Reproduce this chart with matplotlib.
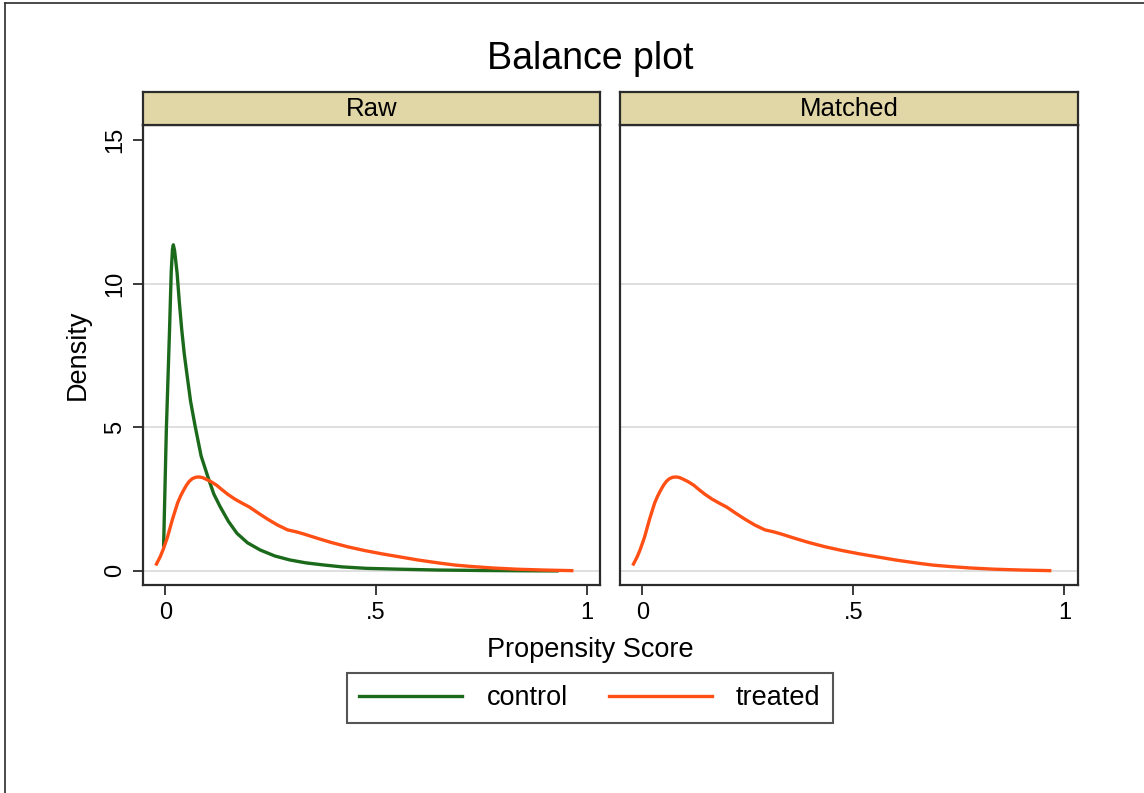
import matplotlib
matplotlib.use("Agg")
from matplotlib import pyplot as plt
from matplotlib.lines import Line2D

plt.rcParams["font.family"] = ["Liberation Sans", "DejaVu Sans"]

# Kernel density of the propensity score.
control_x = [-0.004, 0.0024, 0.010, 0.014, 0.017, 0.019, 0.022, 0.028, 0.033,
             0.039, 0.045, 0.051, 0.06, 0.071, 0.085, 0.102, 0.115, 0.13,
             0.15, 0.17, 0.195, 0.225, 0.26, 0.296, 0.334, 0.374, 0.42,
             0.477, 0.556, 0.65, 0.75, 0.85, 0.93]
control_y = [0.9, 4.9, 8.39, 10.4, 11.2, 11.35, 11.15, 10.36, 9.4,
             8.39, 7.55, 6.88, 5.9, 5.02, 4.0, 3.23, 2.68, 2.24,
             1.72, 1.31, 0.98, 0.73, 0.52, 0.38, 0.28, 0.21, 0.14,
             0.09, 0.06, 0.03, 0.015, 0.005, 0.0]

treated_x = [-0.021, -0.012, -0.005, 0.005, 0.017, 0.029, 0.036, 0.043, 0.05,
             0.057, 0.064, 0.072, 0.08, 0.088, 0.097, 0.108, 0.122, 0.135,
             0.148, 0.165, 0.182, 0.2, 0.222, 0.243, 0.266, 0.29, 0.311, 0.33,
             0.36, 0.394, 0.433, 0.473, 0.512, 0.552, 0.6, 0.652, 0.69, 0.731,
             0.78, 0.834, 0.9, 0.965]
treated_y = [0.24, 0.5, 0.75, 1.17, 1.8, 2.36, 2.6, 2.8, 2.98,
             3.12, 3.21, 3.26, 3.27, 3.25, 3.19, 3.11, 2.98, 2.82,
             2.67, 2.5, 2.36, 2.22, 2.0, 1.8, 1.6, 1.43, 1.36, 1.28,
             1.14, 0.99, 0.84, 0.71, 0.6, 0.5, 0.38, 0.27, 0.2, 0.15,
             0.1, 0.06, 0.03, 0.01]

panels = ["Raw", "Matched"]
yticks = [0, 5, 10, 15]
ytick_labels = ["0", "5", "10", "15"]
xticks = [0, 0.5, 1]
xtick_labels = ["0", ".5", "1"]

green = "#1b6a1b"
orange = "#ff4f14"
strip_color = "#e0d6a6"
edge = "#2b2b2b"

W, H = 1144, 793
fig = plt.figure(figsize=(W / 100, H / 100), dpi=100)

# frame lines along the left and top of the graph region
fig.add_artist(Line2D([5 / W, 5 / W], [0, 1 - 3 / H], color=edge, lw=1.2))
fig.add_artist(Line2D([5 / W, 1], [1 - 3 / H, 1 - 3 / H], color=edge, lw=1.2))

lefts = [143, 620]
widths = [457, 458]
bottom, top = 585, 125

for i, name in enumerate(panels):
    ax = fig.add_axes([lefts[i] / W, 1 - bottom / H, widths[i] / W, (bottom - top) / H])
    for g in [0, 5, 10]:
        ax.axhline(g, color="#dcdcdc", lw=1.3, zorder=0)
    if name == "Raw":
        ax.plot(control_x, control_y, color=green, lw=2.4, solid_joinstyle="round")
    ax.plot(treated_x, treated_y, color=orange, lw=2.4, solid_joinstyle="round")

    ax.set_xlim(-0.053, 1.032)
    ax.set_ylim(-0.49, 15.52)
    ax.set_xticks(xticks)
    ax.set_xticklabels(xtick_labels, fontsize=17)
    ax.tick_params(axis="x", length=7, width=1.3, color=edge, pad=5)
    for s in ax.spines.values():
        s.set_color(edge)
        s.set_linewidth(1.6)
    if i == 0:
        ax.set_yticks(yticks)
        ax.set_yticklabels(ytick_labels, fontsize=17, rotation=90, va="center")
        ax.tick_params(axis="y", length=7, width=1.3, color=edge, pad=5)
        ax.set_ylabel("Density", fontsize=19.5, labelpad=10)
    else:
        ax.set_yticks([])

    strip = fig.add_axes([lefts[i] / W, 1 - 125 / H, widths[i] / W, 33 / H])
    strip.set_facecolor(strip_color)
    strip.set_xticks([])
    strip.set_yticks([])
    for s in strip.spines.values():
        s.set_color(edge)
        s.set_linewidth(1.6)
    strip.text(0.5, 0.47, name, ha="center", va="center", fontsize=18.5,
               transform=strip.transAxes)

fig.text(590 / W, 1 - 59 / H, "Balance plot", ha="center", va="center", fontsize=27)
fig.text(590 / W, 1 - 650 / H, "Propensity Score", ha="center", va="center", fontsize=19.5)

handles = [Line2D([], [], color=green, lw=2.4), Line2D([], [], color=orange, lw=2.4)]
leg = fig.legend(handles, ["control", "treated"], loc="center",
                 bbox_to_anchor=(590 / W, 1 - 698 / H), ncol=2, fontsize=19.5,
                 frameon=True, fancybox=False, handlelength=3.8, handletextpad=0.9,
                 columnspacing=1.5, borderpad=0.45)
leg.get_frame().set_edgecolor(edge)
leg.get_frame().set_linewidth(1.5)

fig.savefig("out.png", dpi=100, facecolor="white")
